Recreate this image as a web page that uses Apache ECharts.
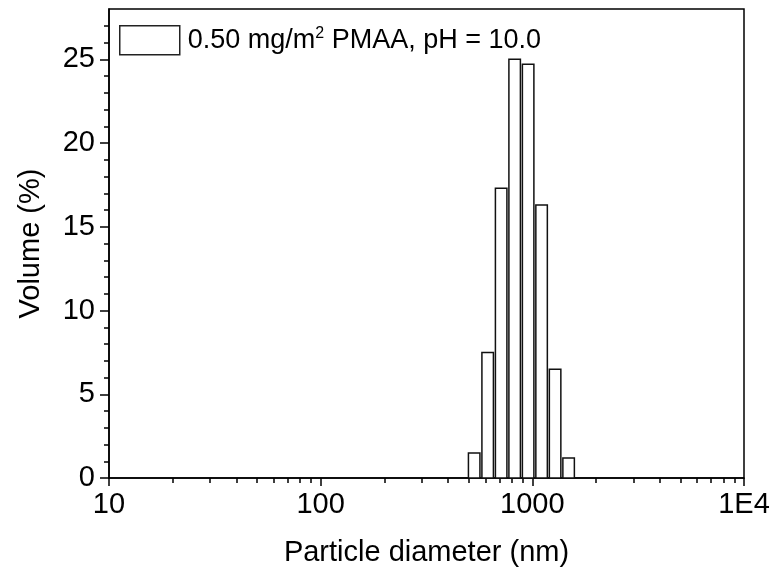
<!DOCTYPE html>
<html>
<head>
<meta charset="utf-8">
<script src="https://cdn.jsdelivr.net/npm/echarts@6/dist/echarts.min.js"></script>
<style>
html,body{margin:0;padding:0;background:#fff;}
#chart{width:784px;height:572px;}
</style>
</head>
<body>
<div id="chart"></div>
<script>
// Data
const diameters = [531.2, 615.1, 712.4, 825.0, 955.4, 1106, 1281, 1484];
const volumes = [1.5, 7.5, 17.3, 25.0, 24.7, 16.3, 6.5, 1.2];
const seriesName = '0.50 mg/m2 PMAA, pH = 10.0';
const xMinorTicks = [20,30,40,50,60,70,80,90,200,300,400,500,600,700,800,900,2000,3000,4000,5000,6000,7000,8000,9000];
const yTicks = [0, 5, 10, 15, 20, 25];

const FONT = 'Liberation Sans, Arial, sans-serif';
const chart = echarts.init(document.getElementById('chart'), null, {renderer: 'canvas'});

const barData = diameters.map((d, i) => [d, volumes[i]]);

const option = {
  animation: false,
  backgroundColor: '#fff',
  grid: {
    left: 109, right: 40, top: 9, bottom: 94,
    show: true, borderColor: '#000', borderWidth: 1.5, backgroundColor: 'transparent'
  },
  legend: {
    left: 119, top: 25,
    padding: 0,
    itemWidth: 60, itemHeight: 29,
    icon: 'rect',
    data: [{
      name: seriesName,
      icon: 'rect',
      itemStyle: {color: '#fff', borderColor: '#222', borderWidth: 1.5}
    }],
    formatter: function () {
      return '{t|0.50 mg/m}{sup|2}{t| PMAA, pH = 10.0}';
    },
    textStyle: {
      fontFamily: FONT, fontSize: 27, color: '#000', padding: [0, 0, 0, 3],
      rich: {
        t: {fontFamily: FONT, fontSize: 27, color: '#000'},
        sup: {fontFamily: FONT, fontSize: 16, color: '#000', padding: [0, 0, 14, 0]}
      }
    }
  },
  xAxis: [{
    type: 'log',
    logBase: 10,
    min: 10, max: 10000,
    name: 'Particle diameter (nm)',
    nameLocation: 'middle',
    nameGap: 60,
    nameTextStyle: {fontFamily: FONT, fontSize: 29, color: '#000'},
    axisLine: {show: true, lineStyle: {color: '#000', width: 1.5}},
    axisTick: {show: true, inside: false, length: 8, lineStyle: {color: '#000', width: 1.5}},
    axisLabel: {
      fontFamily: FONT, fontSize: 29, color: '#000', margin: 12,
      formatter: function (v) { return v >= 10000 ? '1E4' : String(Math.round(v)); }
    },
    splitLine: {show: false},
    minorTick: {show: false}
  }, {
    type: 'log',
    logBase: 10,
    min: 10, max: 10000,
    position: 'bottom',
    axisLine: {show: false},
    axisLabel: {show: false},
    splitLine: {show: false},
    axisTick: {show: true, inside: false, length: 5, customValues: xMinorTicks, lineStyle: {color: '#000', width: 1.5}}
  }],
  yAxis: {
    type: 'value',
    min: 0, max: 28, interval: 5,
    name: 'Volume (%)',
    nameLocation: 'middle',
    nameGap: 64,
    nameTextStyle: {fontFamily: FONT, fontSize: 29, color: '#000'},
    axisLine: {show: true, lineStyle: {color: '#000', width: 1.5}},
    axisTick: {show: true, inside: false, length: 9, customValues: yTicks, lineStyle: {color: '#000', width: 1.5}},
    minorTick: {show: true, splitNumber: 5, length: 5, lineStyle: {color: '#000', width: 1.5}},
    axisLabel: {fontFamily: FONT, fontSize: 29, color: '#000', margin: 14, customValues: yTicks},
    splitLine: {show: false}
  },
  series: [{
    name: seriesName,
    type: 'custom',
    xAxisIndex: 0,
    itemStyle: {color: '#fff', borderColor: '#000', borderWidth: 1.5},
    data: barData,
    renderItem: function (params, api) {
      const top = api.coord([api.value(0), api.value(1)]);
      const base = api.coord([api.value(0), 0]);
      const w = 11.5;
      return {
        type: 'rect',
        shape: {x: top[0] - w / 2, y: top[1], width: w, height: base[1] - top[1]},
        style: {fill: '#fff', stroke: '#111', lineWidth: 1.5}
      };
    }
  }]
};
chart.setOption(option);
</script>
</body>
</html>
